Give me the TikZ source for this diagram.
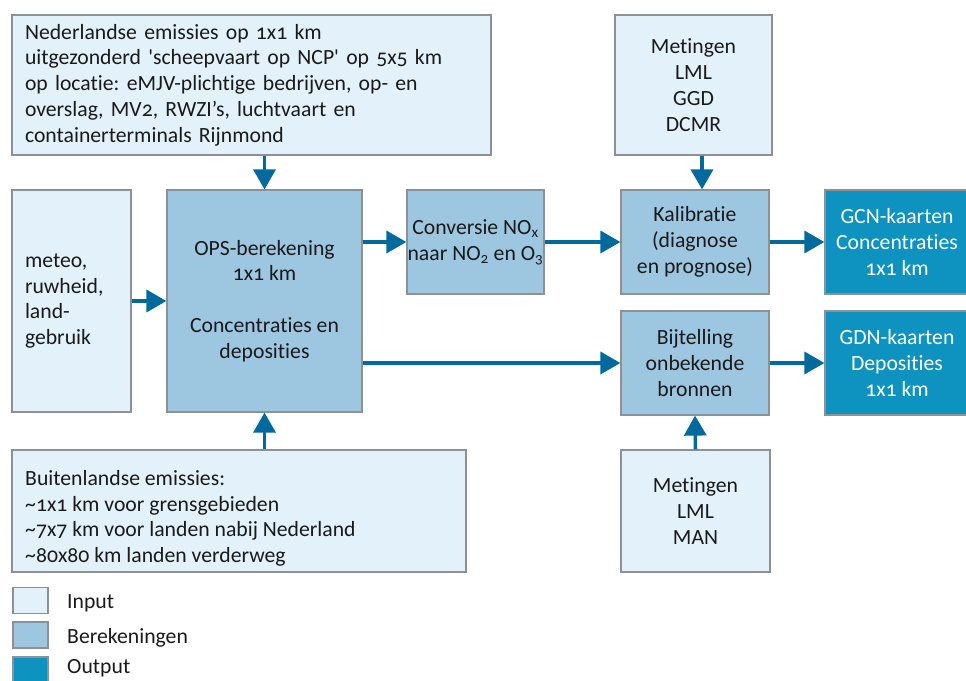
\documentclass[tikz,border=0pt]{standalone}
\usepackage{fontspec}
\setmainfont{Carlito}[Numbers=OldStyle,Ligatures={TeX,NoCommon}]
\usetikzlibrary{arrows.meta}
\definecolor{inC}{RGB}{227,241,251}
\definecolor{calcC}{RGB}{157,198,225}
\definecolor{outC}{RGB}{14,146,192}
\definecolor{arrC}{RGB}{0,105,158}
\definecolor{bordC}{RGB}{140,145,150}
\definecolor{txtC}{RGB}{26,26,26}
\newcommand\diagfs{\fontsize{21.7}{25.8}\selectfont\frenchspacing}
\tikzset{
  box/.style={draw=bordC, line width=1.2pt, inner sep=0pt, font=\diagfs, text=txtC, align=center},
  inbox/.style={box, fill=inC},
  calcbox/.style={box, fill=calcC},
  outbox/.style={box, fill=outC, text=white},
  flow/.style={draw=arrC, line width=3.5pt, -{Triangle[length=20pt,width=22pt]}},
  plain/.style={inner sep=0pt, font=\diagfs, text=txtC},
}
\begin{document}
\begin{tikzpicture}[x=1pt,y=-1pt]
\useasboundingbox (0,0) rectangle (966,680);
% boxes
\node[inbox, minimum width=479, minimum height=140, text width=453, align=left] (top) at (251.5,85)
  {Nederlandse emissies op 1x1 km\\
   uitgezonderd \textquotesingle scheepvaart op NCP\textquotesingle\ op 5x5 km\\
   op locatie: eMJV-plichtige bedrijven, op- en\\
   overslag, MV2, RWZI’s, luchtvaart en\\
   containerterminals Rijnmond};
\node[inbox, minimum width=157, minimum height=140] (met1) at (693.5,85)
  {Metingen\\LML\\GGD\\DCMR};
\node[inbox, minimum width=119, minimum height=222, text width=93, align=left] (meteo) at (71.5,301)
  {meteo,\\ruwheid,\\land-\\gebruik};
\node[calcbox, minimum width=195, minimum height=222] (ops) at (264.5,301)
  {OPS-berekening\\1x1 km\\[25.8pt]Concentraties en\\deposities};
\node[calcbox, minimum width=137, minimum height=104] (conv) at (475.5,242)
  {Conversie NO\textsubscript{x}\\naar NO\textsubscript{2} en O\textsubscript{3}};
\node[calcbox, minimum width=148, minimum height=104] (kal) at (695,242)
  {Kalibratie\\(diagnose\\en prognose)};
\node[outbox, minimum width=144, minimum height=104] (gcn) at (897,242)
  {GCN-kaarten\\Concentraties\\1x1 km};
\node[calcbox, minimum width=148, minimum height=104] (bij) at (695,363)
  {Bijtelling\\onbekende\\bronnen};
\node[outbox, minimum width=144, minimum height=104] (gdn) at (897,363)
  {GDN-kaarten\\Deposities\\1x1 km};
\node[inbox, minimum width=454, minimum height=122] (buit) at (239,511) {};
\node[plain, anchor=north west, align=left] (buittxt) at (25,470)
  {Buitenlandse emissies:\\
   \textasciitilde1x1 km voor grensgebieden\\
   \textasciitilde7x7 km voor landen nabij Nederland\\
   \textasciitilde80x80 km landen verderweg};
\node[inbox, minimum width=149, minimum height=122] (met2) at (695.5,511)
  {Metingen\\LML\\MAN};
% arrows
\draw[flow] (top.south -| ops.north) -- (ops.north);
\draw[flow] ([xshift=7pt]kal.north |- met1.south) -- ([xshift=7pt]kal.north);
\draw[flow] (meteo.east) -- (ops.west);
\draw[flow] (ops.east |- conv.west) -- (conv.west);
\draw[flow] (conv.east) -- (kal.west);
\draw[flow] (kal.east) -- (gcn.west);
\draw[flow] (ops.east |- bij.west) -- (bij.west);
\draw[flow] (bij.east) -- (gdn.west);
\draw[flow] (buit.north -| ops.south) -- (ops.south);
\draw[flow] (met2.north) -- (bij.south);
% legend
\node[inbox, minimum width=35, minimum height=25.5] (lg1) at (30.5,600.5) {};
\node[calcbox, minimum width=35, minimum height=26] (lg2) at (30.5,635) {};
\node[outbox, minimum width=35, minimum height=26] (lg3) at (30.5,670) {};
\node[plain, anchor=base west] (lt1) at (67,608) {Input};
\node[plain, anchor=base west] (lt2) at (67,643) {Berekeningen};
\node[plain, anchor=base west] (lt3) at (67,673) {Output};
\end{tikzpicture}
\end{document}
